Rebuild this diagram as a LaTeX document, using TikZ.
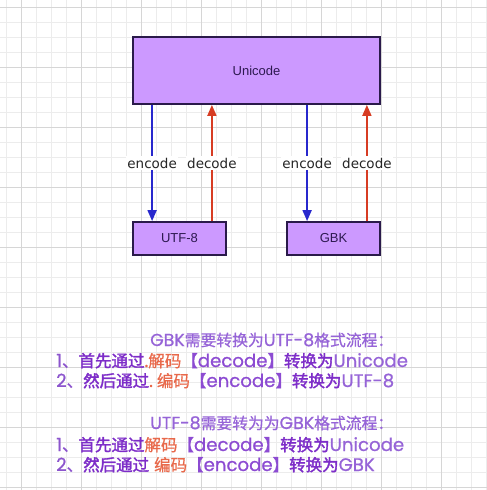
\documentclass[tikz,border=0pt]{standalone}
\usepackage{fontspec}
\setmainfont{Poppins}[Scale=1.1, FakeBold=0.8]
\newfontfamily\cjk{Noto Sans CJK SC}[FakeBold=0.8]
\newfontfamily\cjkb{Noto Sans CJK SC}[FakeBold=2]
\newfontfamily\boxfont{Liberation Sans}
\newfontfamily\lblfont{DejaVu Sans}
\usetikzlibrary{positioning, arrows.meta}
\definecolor{boxfill}{RGB}{204,153,255}
\definecolor{boxline}{RGB}{42,26,74}
\definecolor{boxtext}{RGB}{45,25,80}
\definecolor{enccol}{RGB}{40,40,205}
\definecolor{deccol}{RGB}{215,60,35}
\definecolor{titlecol}{RGB}{150,100,215}
\definecolor{numcol}{RGB}{140,85,205}
\definecolor{keycol}{RGB}{125,45,200}
\definecolor{redcol}{RGB}{232,105,75}
\definecolor{brcol}{RGB}{140,75,210}
\definecolor{gridminor}{RGB}{236,236,236}
\definecolor{gridmajor}{RGB}{214,214,214}
\newcommand{\zh}[1]{{\cjk #1}}
\newcommand{\zhb}[1]{{\cjkb #1}}
\tikzset{
box/.style={draw=boxline, line width=1.8pt, fill=boxfill, font=\boxfont\fontsize{13}{15}\selectfont, text=boxtext}, % the purple boxes
enc/.style={->, draw=enccol, line width=1.8pt}, % encode arrows, going down
dec/.style={->, draw=deccol, line width=1.8pt}, % decode arrows, going up
lbl/.style={fill=white, inner sep=1.5pt, font=\lblfont\fontsize{13.5}{15}\selectfont, text=black!85}, % labels on the arrows
note/.style={anchor=base west, inner sep=0pt, font=\fontsize{16.5}{20}\selectfont}, % lines of the text below
head/.style={note, text=titlecol, font=\fontsize{15.8}{19}\selectfont}, % the two titles
>={Triangle[length=11pt, width=9pt]}, % large filled heads
}
\begin{document}
\begin{tikzpicture}[x=1pt, y=-1pt]
    \useasboundingbox (0,0) rectangle (487,490);
    % grid paper
    \foreach \i in {0,...,32} {
        \draw[gridminor, line width=0.5pt] (6+15*\i,0) -- (6+15*\i,490);
        \draw[gridminor, line width=0.5pt] (0,7+15*\i) -- (487,7+15*\i);
    }
    \foreach \i in {0,...,8} {
        \draw[gridmajor, line width=0.6pt] (21+60*\i,0) -- (21+60*\i,490);
        \draw[gridmajor, line width=0.6pt] (0,7+60*\i) -- (487,7+60*\i);
    }

    \node[box, minimum width=247pt, minimum height=67pt] (unicode) at (256.5,70.5) {Unicode};
    \node[box, minimum width=93pt, minimum height=33pt, below of=unicode, node distance=168pt, xshift=-77pt] (utf8) {UTF-8};
    \node[box, minimum width=93pt, minimum height=33pt, right of=utf8, node distance=154pt] (gbk) {GBK};

    \coordinate (e1) at ([xshift=20pt]utf8.north west);
    \coordinate (d1) at ([xshift=-15pt]utf8.north east);
    \coordinate (e2) at ([xshift=21pt]gbk.north west);
    \coordinate (d2) at ([xshift=-14pt]gbk.north east);
    \draw[enc] (unicode.south -| e1) -- node[lbl]{encode} (e1);
    \draw[dec] (d1) -- node[lbl]{decode} (unicode.south -| d1);
    \draw[enc] (unicode.south -| e2) -- node[lbl]{encode} (e2);
    \draw[dec] (d2) -- node[lbl]{decode} (unicode.south -| d2);

    % GBK -> UTF-8
    \node[head] (t1) at (150,346) {GBK\zh{需要转换为}UTF-8\zh{格式流程：}};
    \node[note] (t1a) at (56,367) {\textcolor{numcol}{1\zh{、}}\textcolor{keycol}{\zhb{首先通过}}\textcolor{redcol}{.\zh{解码}}\textcolor{brcol}{\zh{【}decode\zh{】}}\textcolor{keycol}{\zhb{转换为}}\textcolor{titlecol}{Unicode}};
    \node[note] (t1b) at (56,387) {\textcolor{numcol}{2\zh{、}}\textcolor{keycol}{\zhb{然后通过}}\textcolor{redcol}{.\hspace{4pt}\zh{编码}}\textcolor{brcol}{\zh{【}encode\zh{】}}\textcolor{keycol}{\zhb{转换为}}\textcolor{titlecol}{UTF-8}};
    % UTF-8 -> GBK
    \node[head] (t2) at (150,429) {UTF-8\zh{需要转为为}GBK\zh{格式流程：}};
    \node[note] (t2a) at (56,451) {\textcolor{numcol}{1\zh{、}}\textcolor{keycol}{\zhb{首先通过}}\textcolor{redcol}{\zh{解码}}\textcolor{brcol}{\zh{【}decode\zh{】}}\textcolor{keycol}{\zhb{转换为}}\textcolor{titlecol}{Unicode}};
    \node[note] (t2b) at (56,471) {\textcolor{numcol}{2\zh{、}}\textcolor{keycol}{\zhb{然后通过}}\textcolor{redcol}{\hspace{5pt}\zh{编码}}\textcolor{brcol}{\zh{【}encode\zh{】}}\textcolor{keycol}{\zhb{转换为}}\textcolor{titlecol}{GBK}};
\end{tikzpicture}
\end{document}
